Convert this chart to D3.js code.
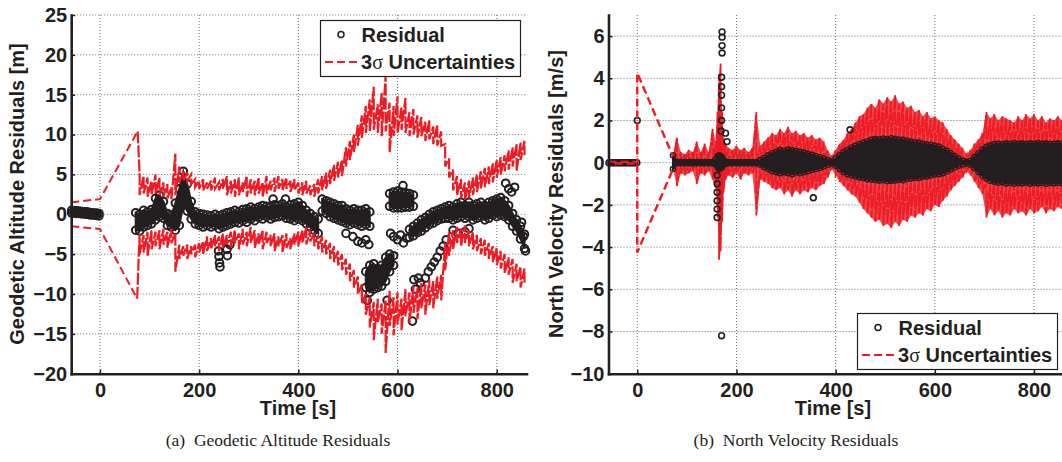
<!DOCTYPE html>
<html>
<head>
<meta charset="utf-8">
<script src="https://cdn.jsdelivr.net/npm/d3@7"></script>
<style>
  body { margin: 0; background: #fff; }
  svg { display: block; font-family: "Liberation Sans", Arial, sans-serif; }
  .tick text { font-size: 20px; font-weight: bold; fill: #231f20; font-family: "Liberation Sans", Arial, sans-serif; }
  .tick line { stroke: #231f20; stroke-width: 1.5; }
  .domain { stroke: #231f20; stroke-width: 2.6; stroke-linecap: square; }
  .grid { stroke: #6d6e70; stroke-width: 1; stroke-dasharray: 1,2; }
  .lbl { font-size: 20px; font-weight: bold; fill: #231f20; }
  .sym { font-family: "Liberation Serif", "Times New Roman", serif; font-weight: normal; }
  .cap { font-family: "Liberation Serif", "Times New Roman", serif; font-size: 17.5px; fill: #231f20; }
</style>
</head>
<body>
<svg id="chart" width="1062" height="462"></svg>
<script>
const ink = '#231f20'
const red = '#ed1c24'

const timeDomain = [-58, 860]
const timeTicks = [0, 200, 400, 600, 800]
const altTicks = [-20, -15, -10, -5, 0, 5, 10, 15, 20, 25]
const velTicks = [-10, -8, -6, -4, -2, 0, 2, 4, 6]

// ---- (a) geodetic altitude ----
// 3 sigma bounds, read as [low, high] of the noisy line at each time
const altSigUpPre = [[-58, 1.5], [0, 1.9], [76, 10.4]]
const altSigDnPre = [[-58, -1.5], [0, -1.85], [75, -10.6]]
const altT = [80,88,96,104,112,120,128,136,144,152,
  160,168,176,184,192,200,208,216,224,232,
  240,248,256,264,272,280,288,296,304,312,
  320,328,336,344,352,360,368,376,384,392,
  400,408,416,424,432,440,448,456,464,472,
  480,488,496,504,512,520,528,536,544,552,
  560,568,576,584,592,600,608,616,624,632,
  640,648,656,664,672,680,688,696,704,712,
  720,728,736,744,752,760,768,776,784,792,
  800,808,816,824,832,840,848,856]
const altUpLo = [2.4,2.6,2.2,2.4,2.6,2.4,2.2,2.0,1.8,2.4,
  4.0,4.2,4.2,3.8,3.4,3.2,3.0,3.2,3.0,3.2,
  3.0,3.2,2.4,2.6,2.2,2.4,2.8,2.2,2.6,2.4,
  2.6,2.2,2.6,3.0,2.8,3.2,3.0,3.2,2.8,3.0,
  2.6,2.4,2.6,2.4,2.2,2.6,3.0,3.2,3.8,4.2,
  4.6,4.8,6.0,6.8,7.8,8.6,9.6,10.2,10.4,10.6,
  10.2,9.8,10.4,7.8,9.8,10.2,10.6,10.2,9.8,10.0,
  9.6,9.8,9.2,9.4,8.8,8.6,8.6,6.0,4.6,3.0,
  2.4,2.0,1.8,2.0,2.4,2.8,3.2,3.4,3.8,4.0,
  4.6,5.0,5.4,5.6,6.0,5.4,6.8,7.4]
const altUpHi = [5.0,4.8,4.6,4.2,5.0,4.6,4.0,3.8,3.4,7.6,
  6.0,5.4,5.2,5.0,4.4,4.2,4.4,4.0,4.2,4.6,
  4.0,4.4,4.8,4.2,4.4,4.6,4.0,4.8,4.4,4.2,
  4.6,4.0,4.8,4.2,4.6,4.8,4.4,4.6,4.2,4.4,
  4.0,4.0,4.2,3.6,3.8,4.4,4.8,5.2,5.6,6.2,
  6.6,6.8,8.4,9.2,10.0,11.2,12.4,13.6,14.4,16.0,
  13.8,15.2,17.4,14.0,13.6,14.8,13.4,14.6,12.8,13.2,
  12.4,12.2,11.6,11.8,11.0,11.2,10.4,8.8,7.0,5.6,
  4.8,4.4,4.0,4.2,4.6,5.0,5.4,5.8,6.0,6.4,
  6.8,7.2,7.4,8.0,8.4,8.8,9.0,9.2]
const altDnLo = [-5.0,-4.8,-5.2,-4.4,-4.0,-4.4,-3.8,-4.2,-3.6,-7.2,
  -5.6,-5.2,-5.6,-5.0,-5.4,-4.8,-5.0,-4.6,-4.4,-4.0,
  -4.6,-4.2,-3.8,-4.2,-3.6,-4.4,-3.8,-4.0,-3.6,-4.2,
  -3.8,-4.4,-3.6,-4.0,-4.6,-4.0,-4.8,-4.2,-4.4,-3.8,
  -4.0,-3.6,-3.8,-3.4,-4.0,-4.4,-4.8,-5.0,-5.6,-6.0,
  -6.4,-7.0,-7.6,-8.4,-9.2,-10.0,-11.2,-12.6,-14.2,-15.8,
  -13.6,-15.0,-17.4,-14.0,-15.2,-13.8,-14.6,-12.8,-13.6,-12.4,
  -13.2,-11.8,-12.6,-11.4,-11.8,-10.6,-10.8,-7.0,-5.2,-4.4,
  -3.6,-4.0,-3.6,-4.0,-4.4,-4.6,-5.0,-5.2,-5.6,-6.0,
  -6.4,-6.8,-7.4,-7.6,-8.6,-8.4,-9.2,-8.6]
const altDnHi = [-2.4,-2.6,-2.2,-2.0,-2.2,-2.0,-1.8,-2.2,-1.8,-2.4,
  -3.8,-4.0,-3.8,-4.0,-3.8,-3.6,-3.4,-2.8,-3.0,-2.6,
  -2.8,-2.4,-2.6,-2.2,-2.0,-2.4,-1.8,-2.2,-1.6,-2.0,
  -2.4,-2.0,-2.2,-2.6,-2.4,-2.8,-2.6,-2.4,-3.0,-2.4,
  -2.2,-2.0,-1.6,-2.0,-2.4,-2.6,-2.8,-3.2,-3.6,-4.0,
  -4.6,-5.0,-5.6,-6.2,-7.0,-7.8,-8.8,-10.0,-10.4,-11.0,
  -10.6,-11.2,-10.8,-9.6,-10.4,-9.8,-10.6,-9.4,-9.8,-9.0,
  -9.2,-8.6,-8.8,-8.2,-8.4,-7.8,-7.6,-3.6,-2.2,-2.0,
  -1.6,-1.8,-1.4,-2.0,-2.2,-2.6,-3.0,-3.2,-3.6,-4.0,
  -4.2,-4.6,-5.0,-5.4,-5.6,-6.2,-6.6,-6.8]

// residual clusters as [time, low, high]
const altResPre = [[-57,0.15,0.5],[-52,0.15,0.45],[-47,0.1,0.45],[-42,0.1,0.4],[-37,0.05,0.35],[-32,0.05,0.3],
  [-27,0,0.3],[-22,-0.05,0.25],[-17,-0.1,0.2],[-12,-0.1,0.15],[-7,-0.15,0.15],[-2,-0.2,0.1]]
const altResA = [[72,-2.0,0.2],[80,-2.1,0.0],[88,-1.6,0.5],[96,-1.4,0.3],[104,-1.2,0.6],[112,-0.7,2.0],
  [120,-0.3,2.4],[128,-0.5,1.6],[136,-1.4,0.1],[144,-1.6,-0.1],[152,-2.0,1.4],[160,-1.4,3.2],[168,1.2,5.4],
  [176,0.4,3.8],[184,-0.6,1.6],[192,-1.2,0.3],[200,-1.4,0.1],[208,-1.6,0.0],[216,-1.4,-0.1],[224,-1.6,-0.2],
  [232,-1.4,0.0],[240,-1.8,-0.2],[248,-1.6,0.0],[256,-1.4,0.2],[264,-1.2,0.3],[272,-1.0,0.5],[280,-1.1,0.3],
  [288,-0.8,0.6],[296,-1.0,0.7],[304,-0.6,0.9],[312,-0.8,0.7],[320,-0.4,0.9],[328,-0.6,1.1],[336,-0.3,1.0],
  [344,-0.6,0.9],[352,-0.4,1.2],[360,-0.3,1.1],[368,-0.2,1.3],[376,-0.5,0.9],[384,-0.6,1.2],[392,-0.8,1.3],
  [400,-0.6,1.5],[408,-0.8,1.1],[416,-1.2,0.5],[424,-1.6,0.1],[432,-2.0,-0.3],[440,-2.4,-0.6]]
const altResB = [[448,0.4,1.9],[456,0.1,1.7],[464,-0.3,1.5],[472,-0.5,1.3],[480,-0.7,1.1],[488,-0.9,1.1],
  [496,-1.1,0.7],[504,-1.3,0.5],[512,-1.1,0.7],[520,-1.3,0.5],[528,-1.5,0.5],[536,-1.3,0.7],[544,-1.5,0.3]]
const altResC = [[536,-9.2,-7.2],[544,-9.8,-6.4],[552,-9.4,-6.2],[560,-9.2,-6.8],[568,-9.0,-6.4],
  [576,-8.4,-5.4],[584,-7.2,-5.0],[592,-6.4,-5.2]]
const altResD = [[584,1.0,2.6],[592,0.8,2.8],[600,0.8,2.9],[608,0.8,2.8],[616,0.9,2.7],[624,0.9,2.6],[632,1.0,2.4]]
const altResE = [[624,-2.9,-1.9],[632,-2.7,-1.5],[640,-2.3,-1.1],[648,-2.1,-0.7],[656,-1.7,-0.4],[664,-1.3,0.0],
  [672,-1.1,0.3],[680,-0.8,0.5],[688,-0.6,0.7],[696,-0.5,0.9],[704,-0.5,1.1],[712,-0.7,0.9],[720,-0.5,1.3],
  [728,-0.3,1.5],[736,-0.5,1.1],[744,-0.3,1.5],[752,-0.7,1.1],[760,-0.5,1.3],[768,-0.3,1.5],[776,-0.7,1.1],
  [784,-0.5,1.5],[792,-0.1,1.7],[800,-0.3,1.9],[808,-0.1,2.1],[816,-0.3,1.7],[824,-0.7,1.1],[832,-1.5,0.1],
  [840,-2.1,-0.7],[848,-3.1,-1.5],[856,-4.3,-2.5]]
const altOutliers = [[239,-4.6],[240,-5.3],[241,-6.1],[242,-6.6],[256,-4.4],[257,-5.2],[262,-3.8],
  [349,1.9],[374,1.9],[496,-2.4],[510,-2.8],[520,-3.4],[528,-3.6],[536,-3.2],[542,-3.8],[539,-10.8],
  [579,-10.8],[586,-2.4],[592,-2.8],[600,-3.2],[606,-2.6],[612,-3.6],[618,-3.0],[611,3.6],[630,-13.4],
  [633,-8.2],[636,-9.4],[642,-8.0],[646,-8.6],[656,-8.0],[662,-7.2],[668,-6.6],[674,-6.0],[680,-5.4],
  [686,-4.6],[692,-4.0],[698,-3.2],[712,-2.0],[722,-2.4],[736,-2.2],[744,-1.8],[818,3.9],[824,3.2],
  [830,2.8],[836,3.4],[850,-1.0],[854,-2.8],[858,-4.6]]

// ---- (b) north velocity ----
const velSigUpPre = [[-58, 0.04], [0, 0.04], [0, 4.25], [72, 0.3]]
const velSigDnPre = [[-58, -0.04], [0, -0.04], [0, -4.25], [72, -0.3]]
const velResPre = [[-57,0],[-53,0],[-49,0],[-45,0],[-41,0],[-37,0],[-33,0],[-29,0],[-25,0],[-21,0],
  [-17,0],[-13,0],[-9,0],[-5,0],[-1,0]]
const velT = [72,80,88,96,104,112,120,128,136,144,152,
  158,162,165,168,171,174,178,
  184,192,200,208,216,224,232,240,
  248,256,264,272,280,288,296,304,312,320,328,336,344,352,360,368,376,384,392,
  400,408,416,424,432,440,448,456,464,472,480,488,496,504,512,520,528,536,544,552,
  560,568,576,584,592,600,608,616,624,632,640,648,656,664,
  672,680,688,696,704,712,720,728,736,744,752,760,768,776,784,792,800,808,816,824,832,840,848,856]
const velResLo = [-0.3,-0.03,-0.03,-0.03,-0.03,-0.03,-0.03,-0.03,-0.03,-0.03,-0.03,
  -0.1,-0.2,-0.3,-0.25,-0.2,-0.1,-0.05,
  -0.03,-0.03,-0.03,-0.03,-0.03,-0.03,-0.03,-0.03,
  -0.1,-0.2,-0.3,-0.4,-0.45,-0.5,-0.45,-0.5,-0.55,-0.45,-0.5,-0.45,-0.4,-0.35,-0.3,-0.25,-0.18,-0.1,-0.03,
  -0.15,-0.3,-0.45,-0.55,-0.6,-0.65,-0.7,-0.72,-0.78,-0.8,-0.82,-0.85,-0.82,-0.88,-0.85,-0.84,-0.8,-0.83,-0.76,-0.75,
  -0.7,-0.72,-0.66,-0.65,-0.6,-0.56,-0.55,-0.5,-0.42,-0.32,-0.22,-0.14,-0.08,-0.03,
  -0.08,-0.25,-0.45,-0.62,-0.75,-0.85,-0.9,-0.95,-0.92,-0.98,-0.95,-1.0,-0.96,-0.98,-0.94,-1.0,-0.96,-0.98,-0.95,-1.0,-0.96,-0.98,-0.95,-0.97]
const velResHi = [0.35,0.03,0.03,0.03,0.03,0.03,0.03,0.03,0.03,0.03,0.03,
  0.15,0.3,0.35,0.3,0.25,0.12,0.05,
  0.03,0.03,0.03,0.03,0.03,0.03,0.03,0.03,
  0.12,0.22,0.35,0.45,0.5,0.6,0.55,0.62,0.6,0.55,0.52,0.48,0.42,0.38,0.32,0.26,0.2,0.12,0.04,
  0.2,0.35,0.5,0.6,0.72,0.8,0.88,0.95,1.02,1.08,1.12,1.1,1.15,1.12,1.16,1.12,1.1,1.08,1.04,1.0,
  0.96,0.95,0.9,0.86,0.85,0.8,0.76,0.66,0.56,0.46,0.32,0.2,0.1,0.04,
  0.1,0.28,0.45,0.62,0.75,0.82,0.88,0.9,0.88,0.92,0.9,0.93,0.9,0.92,0.88,0.92,0.9,0.93,0.9,0.92,0.88,0.9,0.92,0.9]
const velUpLo = [0.03,0.03,0.03,0.03,0.03,0.03,0.03,0.03,0.03,0.03,0.03,
  0.05,0.1,0.2,0.2,0.1,0.05,0.05,
  0.03,0.03,0.03,0.03,0.03,0.03,0.03,0.03,
  0.1,0.2,0.3,0.4,0.5,0.5,0.55,0.5,0.6,0.5,0.5,0.45,0.4,0.35,0.3,0.25,0.2,0.1,0.03,
  0.1,0.3,0.4,0.5,0.6,0.7,0.8,0.9,0.9,1.0,1.0,1.1,1.1,1.1,1.1,1.0,1.1,1.0,1.0,0.9,
  0.9,0.9,0.8,0.8,0.8,0.7,0.7,0.6,0.5,0.4,0.3,0.2,0.1,0.03,
  0.1,0.3,0.4,0.6,0.7,0.8,0.8,0.8,0.9,0.8,0.8,0.8,0.8,0.8,0.8,0.8,0.8,0.8,0.8,0.8,0.8,0.8,0.8,0.8]
const velUpHi = [0.3,1.2,0.5,0.4,0.6,0.5,1.0,0.5,0.9,0.5,1.6,
  1.0,2.4,4.2,4.7,2.4,1.2,0.9,
  0.7,0.6,0.8,0.6,0.7,0.5,0.7,2.4,
  0.8,1.0,1.2,1.4,1.3,1.6,1.4,1.7,1.4,1.5,1.3,1.4,1.2,1.3,1.1,1.2,1.0,0.6,0.3,
  0.6,0.9,1.1,1.4,1.6,1.9,2.2,2.3,2.6,2.8,2.6,3.0,2.8,3.1,2.9,3.2,2.8,2.9,2.6,2.7,
  2.4,2.5,2.2,2.4,2.1,2.2,2.0,1.9,1.6,1.3,1.1,0.9,0.7,0.4,
  0.6,0.9,1.1,1.4,2.4,2.1,2.3,2.0,2.2,2.1,2.0,1.9,2.2,2.0,2.3,2.1,2.3,2.0,2.2,1.9,2.1,2.0,2.2,2.0]
const velDnLo = [-0.3,-1.1,-0.5,-0.6,-0.5,-0.4,-1.0,-0.5,-0.6,-0.4,-0.8,
  -1.2,-2.6,-4.6,-4.2,-2.8,-1.4,-0.8,
  -0.6,-0.7,-0.5,-0.8,-0.5,-0.6,-0.5,-2.5,
  -0.8,-0.9,-1.0,-1.2,-1.3,-1.2,-1.5,-1.3,-1.6,-1.3,-1.5,-1.3,-1.4,-1.2,-1.3,-1.1,-1.0,-0.7,-0.3,
  -0.6,-0.9,-1.1,-1.3,-1.5,-1.6,-1.9,-2.2,-2.4,-2.6,-2.8,-2.7,-3.0,-2.9,-3.1,-2.8,-3.0,-2.7,-2.8,-2.5,
  -2.6,-2.4,-2.5,-2.2,-2.3,-2.0,-2.1,-1.8,-1.6,-1.3,-1.1,-0.9,-0.7,-0.4,
  -0.6,-0.9,-1.2,-1.5,-2.6,-2.2,-2.5,-2.3,-2.6,-2.4,-2.5,-2.2,-2.4,-2.3,-2.5,-2.2,-2.4,-2.3,-2.1,-2.4,-2.2,-2.3,-2.1,-2.2]
const velDnHi = [-0.03,-0.03,-0.03,-0.03,-0.03,-0.03,-0.03,-0.03,-0.03,-0.03,-0.03,
  -0.05,-0.1,-0.2,-0.2,-0.1,-0.05,-0.05,
  -0.03,-0.03,-0.03,-0.03,-0.03,-0.03,-0.03,-0.03,
  -0.1,-0.2,-0.3,-0.4,-0.45,-0.5,-0.45,-0.5,-0.55,-0.45,-0.5,-0.45,-0.4,-0.35,-0.3,-0.25,-0.18,-0.1,-0.03,
  -0.15,-0.3,-0.45,-0.55,-0.6,-0.65,-0.7,-0.72,-0.78,-0.8,-0.82,-0.85,-0.82,-0.88,-0.85,-0.84,-0.8,-0.83,-0.76,-0.75,
  -0.7,-0.72,-0.66,-0.65,-0.6,-0.56,-0.55,-0.5,-0.42,-0.32,-0.22,-0.14,-0.08,-0.03,
  -0.08,-0.25,-0.45,-0.62,-0.75,-0.85,-0.9,-0.95,-0.92,-0.98,-0.95,-1.0,-0.96,-0.98,-0.94,-1.0,-0.96,-0.98,-0.95,-1.0,-0.96,-0.98,-0.95,-0.97]
const velOutliers = [[0,2.0],[171,6.2],[171,5.95],[171,5.55],[171,5.2],[170,4.05],[170,3.6],[170,3.2],
  [170,2.6],[170,2.0],[169,1.5],[161,-0.6],[161,-1.0],[161,-1.4],[161,-1.8],[161,-2.2],[161,-2.6],
  [170,-8.2],[178,1.4],[181,1.0],[355,-1.66],[429,1.56]]

const svg = d3.select('#chart')
const plotTop = 15, plotBottom = 373.7

const rows = (t, lo, hi) => t.map((d, i) => [d, lo[i], hi[i]])

function makePanel(left, right, yDomain, yTicks) {
  const x = d3.scaleLinear().domain(timeDomain).range([left, right])
  const y = d3.scaleLinear().domain(yDomain).range([plotBottom, plotTop])
  const g = svg.append('g')
  const grid = g.append('g')
  grid.selectAll('.gx').data(timeTicks).join('line').attr('class', 'grid')
    .attr('x1', d => x(d)).attr('x2', d => x(d)).attr('y1', plotTop).attr('y2', plotBottom)
  grid.selectAll('.gy').data(yTicks.filter(d => d > yDomain[0])).join('line').attr('class', 'grid')
    .attr('x1', left).attr('x2', right).attr('y1', d => y(d)).attr('y2', d => y(d))
  const layer = g.append('g')
  const axes = g.append('g')
  axes.append('g').attr('transform', `translate(0,${plotBottom})`)
    .call(d3.axisBottom(x).tickValues(timeTicks).tickSizeInner(-4).tickSizeOuter(0).tickPadding(9))
  axes.append('g').attr('transform', `translate(${left},0)`)
    .call(d3.axisLeft(y).tickValues(yTicks).tickSizeInner(-4).tickSizeOuter(0).tickPadding(4))
  return { x, y, layer }
}

function drawBand(p, data, r, sw) {
  p.layer.append('path').datum(data)
    .attr('d', d3.area().x(d => p.x(d[0])).y0(d => p.y(d[1])).y1(d => p.y(d[2])))
    .attr('fill', ink).attr('stroke', ink).attr('stroke-width', 2)
  drawDots(p, data.flatMap(d => [[d[0], d[1]], [d[0], d[2]]]), r, sw)
}

function drawDots(p, pts, r, sw) {
  p.layer.append('g').selectAll('circle').data(pts).join('circle')
    .attr('cx', d => p.x(d[0])).attr('cy', d => p.y(d[1])).attr('r', r)
    .attr('fill', 'none').attr('stroke', ink).attr('stroke-width', sw)
}

function drawLine(p, pts, dash, width, offset) {
  p.layer.append('path')
    .attr('d', d3.line().x(d => p.x(d[0])).y(d => p.y(d[1]))(pts))
    .attr('fill', 'none').attr('stroke', red).attr('stroke-width', width)
    .attr('stroke-dasharray', dash).attr('stroke-dashoffset', offset || 0)
}

// zigzag through the [low, high] range read at each time
const zig = (t, lo, hi) => t.flatMap((d, i) => [[d, hi[i]], [d, lo[i]]])

// panel (a)
const pa = makePanel(71.2, 526.5, [-20, 25], altTicks)
;[altResPre, altResA, altResB, altResC, altResD, altResE].forEach(s => drawBand(pa, s, 3.8, 2))
drawDots(pa, altOutliers, 3.8, 2)
drawLine(pa, altSigUpPre, '8,4', 2)
drawLine(pa, altSigDnPre, '8,4', 2)
drawLine(pa, [altSigUpPre[2]].concat(zig(altT, altUpLo, altUpHi)), '12,2', 2.2)
drawLine(pa, [altSigDnPre[2]].concat(zig(altT, altDnLo, altDnHi)), '12,2', 2.2)

// panel (b)
const pb = makePanel(608.5, 1063.8, [-10, 7], velTicks)
const bandArea = (lo, hi) => d3.area()
  .x(d => pb.x(d)).y0((d, i) => pb.y(lo[i])).y1((d, i) => pb.y(hi[i]))
pb.layer.append('path').datum(velT).attr('d', bandArea(velUpLo, velUpHi)).attr('fill', red).attr('fill-opacity', 0.8)
pb.layer.append('path').datum(velT).attr('d', bandArea(velDnLo, velDnHi)).attr('fill', red).attr('fill-opacity', 0.8)
drawLine(pb, zig(velT, velUpLo, velUpHi), '14,1.5', 1.8)
drawLine(pb, zig(velT, velDnLo, velDnHi), '14,1.5', 1.8)
drawBand(pb, rows(velT, velResLo, velResHi), 2.6, 1.4)
drawDots(pb, velOutliers, 2.9, 1.6)
drawDots(pb, velResPre, 3, 1.6)
drawLine(pb, velSigUpPre, '8,4', 2.4)
drawLine(pb, velSigDnPre, '8,4', 2.4, 6)

// axis titles
function yTitle(xPos, text) {
  svg.append('text').attr('class', 'lbl').attr('text-anchor', 'middle')
    .attr('transform', `translate(${xPos},194) rotate(-90)`).text(text)
}
yTitle(24, 'Geodetic Altitude Residuals [m]')
yTitle(563, 'North Velocity Residuals [m/s]')
svg.append('text').attr('class', 'lbl').attr('text-anchor', 'middle').attr('x', 298).attr('y', 415).text('Time [s]')
svg.append('text').attr('class', 'lbl').attr('text-anchor', 'middle').attr('x', 833).attr('y', 415).text('Time [s]')

// legends
function legend(x0, y0) {
  const lg = svg.append('g').attr('transform', `translate(${x0},${y0})`)
  lg.append('rect').attr('x', 0.5).attr('y', 0.5).attr('width', 200).attr('height', 56)
    .attr('fill', '#fff').attr('stroke', ink).attr('stroke-width', 1.2)
  lg.append('circle').attr('cx', 21).attr('cy', 14.5).attr('r', 3)
    .attr('fill', 'none').attr('stroke', ink).attr('stroke-width', 1.5)
  lg.append('text').attr('class', 'lbl').attr('x', 41.5).attr('y', 21.5).text('Residual')
  lg.append('line').attr('x1', 5).attr('x2', 39).attr('y1', 42).attr('y2', 42)
    .attr('stroke', red).attr('stroke-width', 1.8).attr('stroke-dasharray', '8,4')
  const t = lg.append('text').attr('class', 'lbl').attr('x', 41).attr('y', 49)
  t.append('tspan').text('3')
  t.append('tspan').attr('class', 'sym').text('σ')
  t.append('tspan').text(' Uncertainties')
}
legend(320, 20)
legend(857, 313)

// captions
svg.append('text').attr('class', 'cap').attr('text-anchor', 'middle').attr('x', 278).attr('y', 446)
  .text('(a)\u2002Geodetic Altitude Residuals')
svg.append('text').attr('class', 'cap').attr('text-anchor', 'middle').attr('x', 796).attr('y', 446)
  .text('(b)\u2002North Velocity Residuals')
</script>
</body>
</html>
